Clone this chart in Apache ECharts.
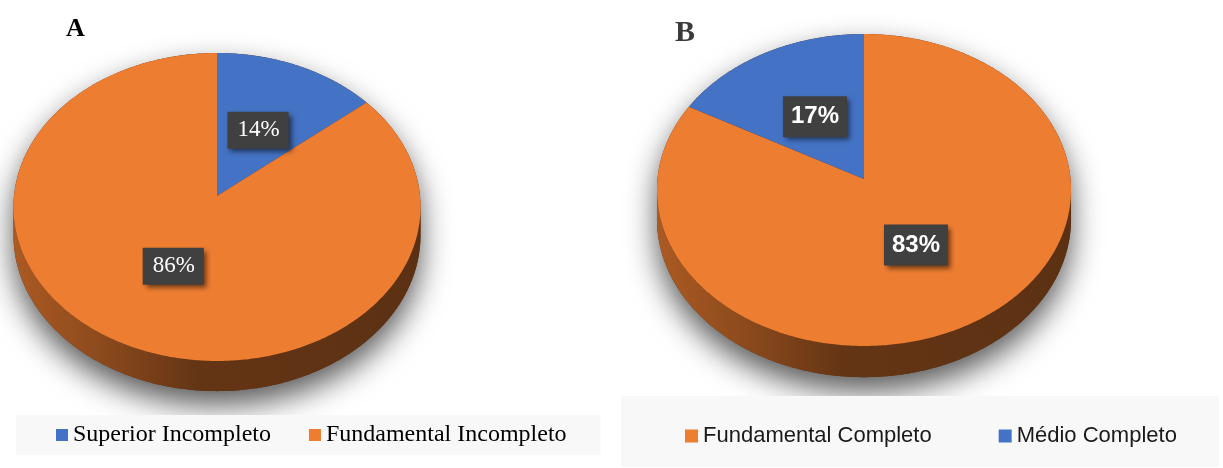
<!DOCTYPE html>
<html><head><meta charset="utf-8">
<script src="https://cdn.jsdelivr.net/npm/echarts@6/dist/echarts.min.js"></script>
<style>html,body{margin:0;padding:0;background:#fff}#c{width:1223px;height:468px}</style>
</head><body><div id="c"></div>
<script>
// ---- data ----
const catsA = ['Superior Incompleto', 'Fundamental Incompleto'];
const valsA = [14, 86];
const colorsA = ['#4472C4', '#ED7D31'];
const catsB = ['Fundamental Completo', 'Médio Completo'];
const valsB = [83, 17];
const colorsB = ['#ED7D31', '#4472C4'];
const panelTitles = ['A', 'B'];

// ---- layout (pixels) ----
const geoA = {cx: 217, cy: 196, rx: 203, ry: 153.2, k: 0.0714, depth: 28};
const geoB = {cx: 864, cy: 179, rx: 206.5, ry: 155.2, k: 0.0705, depth: 29};

const pies = [
  {cats: catsA, vals: valsA, colors: colorsA, geo: geoA, labelR: 0.49,
   label: {fontFamily: 'Liberation Serif', fontWeight: 'normal', fontSize: 23, lineHeight: 23, padding: [7, 9, 7, 10]}},
  {cats: catsB, vals: valsB, colors: colorsB, geo: geoB, labelR: 0.48,
   label: {fontFamily: 'Liberation Sans', fontWeight: 'bold', fontSize: 24, lineHeight: 24, padding: [9, 8, 8, 8]}}
];

function proj(g, th, r, drop) {
  const s = Math.sin(th), c = Math.cos(th);
  const f = 1 / (1 + g.k * r * s);
  return [g.cx + g.rx * r * c * f, g.cy - g.ry * r * s * f + (drop || 0) * f];
}
function shade(hex, f) {
  const n = parseInt(hex.slice(1), 16);
  const r = Math.round(((n >> 16) & 255) * f), gg = Math.round(((n >> 8) & 255) * f), b = Math.round((n & 255) * f);
  return 'rgb(' + r + ',' + gg + ',' + b + ')';
}
function arc(g, from, to, drop, out) {
  const n = Math.max(2, Math.ceil(Math.abs(to - from) / 0.01));
  for (let s = 0; s <= n; s++) out.push(proj(g, from + (to - from) * s / n, 1, drop));
  return out;
}

function makeRender(p, i) {
  return function (params, api) {
    const g = p.geo;
    const total = p.vals.reduce((a, b) => a + b, 0);
    let before = 0;
    for (let j = 0; j < i; j++) before += p.vals[j];
    const v = api.value(0);
    const a0 = Math.PI / 2 - 2 * Math.PI * before / total;
    const a1 = a0 - 2 * Math.PI * v / total;
    const color = p.colors[i];
    const alpha = Math.asin(g.k);
    const children = [];
    if (i === 0) {
      // silhouette casting the soft shadow
      const pts = [];
      arc(g, -alpha, Math.PI + alpha, 0, pts);
      arc(g, Math.PI + alpha, 2 * Math.PI - alpha, g.depth, pts);
      children.push({type: 'polygon', z2: 0, shape: {points: pts},
        style: {fill: '#5e3014', shadowBlur: 30, shadowColor: 'rgba(0,0,0,0.65)', shadowOffsetY: 14}});
    }
    // side wall (only the front part is visible)
    const vis = [[Math.PI + alpha, 2 * Math.PI - alpha], [-Math.PI + alpha, -alpha]];
    vis.forEach(function (V) {
      const lo = Math.max(a1, V[0]), hi = Math.min(a0, V[1]);
      if (lo < hi) {
        const pts = [];
        arc(g, lo, hi, 0, pts);
        arc(g, hi, lo, g.depth, pts);
        children.push({type: 'polygon', z2: 1, shape: {points: pts},
          style: {fill: new echarts.graphic.LinearGradient(g.cx - g.rx, 0, g.cx + g.rx, 0, [
            {offset: 0, color: shade(color, 0.72)},
            {offset: 0.2, color: shade(color, 0.6)},
            {offset: 0.45, color: shade(color, 0.42)},
            {offset: 1, color: shade(color, 0.39)}
          ], true)}});
      }
    });
    // top face
    const top = [[g.cx, g.cy]];
    arc(g, a0, a1, 0, top);
    children.push({type: 'polygon', z2: 2, shape: {points: top}, style: {fill: color}});
    // data label
    const lp = proj(g, (a0 + a1) / 2, p.labelR, 0);
    const L = p.label;
    children.push({type: 'text', z2: 5, x: lp[0], y: lp[1], style: {
      text: Math.round(v / total * 100) + '%', fill: '#ffffff',
      fontFamily: L.fontFamily, fontWeight: L.fontWeight, fontSize: L.fontSize, lineHeight: L.lineHeight,
      align: 'center', verticalAlign: 'middle', backgroundColor: '#404040', padding: L.padding,
      shadowBlur: 5, shadowColor: 'rgba(0,0,0,0.55)', shadowOffsetX: 3, shadowOffsetY: 3
    }});
    return {type: 'group', children: children};
  };
}

const series = [];
pies.forEach(function (p) {
  p.cats.forEach(function (name, i) {
    series.push({type: 'custom', name: name, coordinateSystem: 'none', silent: true, animation: false,
      itemStyle: {color: p.colors[i]}, data: [[p.vals[i]]], renderItem: makeRender(p, i)});
  });
});

const chart = echarts.init(document.getElementById('c'), null, {renderer: 'canvas'});
chart.setOption({
  backgroundColor: '#ffffff',
  animation: false,
  title: [
    {text: panelTitles[0], left: 66, top: 16, padding: 0,
     textStyle: {fontFamily: 'Liberation Serif', fontWeight: 'bold', fontSize: 26, color: '#000000'}},
    {text: panelTitles[1], left: 675, top: 18, padding: 0,
     textStyle: {fontFamily: 'Liberation Serif', fontWeight: 'bold', fontSize: 30, color: '#3a3a3a'}}
  ],
  legend: [
    {data: catsA, left: 16, top: 415, orient: 'horizontal', selectedMode: false, icon: 'rect',
     itemWidth: 12, itemHeight: 12, itemGap: 38, padding: [8, 34, 8, 40], backgroundColor: '#f8f8f8',
     textStyle: {fontFamily: 'Liberation Serif', fontSize: 24, lineHeight: 24, color: '#000000'}},
    {data: catsB, left: 621, top: 396, orient: 'horizontal', selectedMode: false, icon: 'rect',
     itemWidth: 13, itemHeight: 13, itemGap: 67, padding: [28, 42, 19, 64], backgroundColor: '#f8f8f8',
     textStyle: {fontFamily: 'Liberation Sans', fontSize: 22, lineHeight: 24, color: '#1a1a1a'}}
  ],
  series: series
});
</script>
</body></html>
